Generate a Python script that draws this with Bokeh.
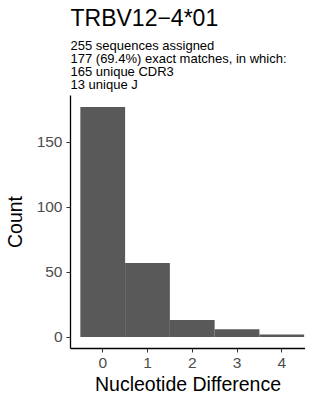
from bokeh.plotting import figure
from bokeh.models import Title, Range1d, FixedTicker
from bokeh.embed import file_html
from bokeh.resources import INLINE

diffs = [0, 1, 2, 3, 4]
counts = [177, 57, 13, 6, 2]
title_text = "TRBV12\u22124*01"
subtitle_lines = ["255 sequences assigned",
                  "177 (69.4%) exact matches, in which:",
                  "165 unique CDR3",
                  "13 unique J"]
y_ticks = [0, 50, 100, 150]
x_ticks = [0, 1, 2, 3, 4]
x_label = "Nucleotide Difference"
y_label = "Count"

FONT = "Liberation Sans"

p = figure(width=305, height=394, output_backend="svg", toolbar_location=None,
           x_range=Range1d(-0.72, 4.53), y_range=Range1d(-8.85, 185.85),
           min_border_left=63, min_border_right=0, min_border_bottom=0, min_border_top=0)

p.title.text = title_text
p.title.text_font = FONT
p.title.text_font_size = "23px"
p.title.text_font_style = "normal"
p.title.text_color = "black"
p.title.offset = 0
p.title.standoff = 4

sub = Title(text="\n".join(subtitle_lines), text_font=FONT, text_font_size="13px",
            text_font_style="normal", text_color="black", text_line_height=0.85,
            standoff=8)
p.add_layout(sub, "above")

p.quad(left=[d - 0.5 for d in diffs], right=[d + 0.5 for d in diffs],
       bottom=0, top=counts, fill_color="#595959", line_color=None)

p.xgrid.visible = False
p.ygrid.visible = False
p.outline_line_color = None

for ax in (p.xaxis[0], p.yaxis[0]):
    ax.axis_line_color = "black"
    ax.axis_line_width = 1.3
    ax.major_tick_line_color = "#333333"
    ax.major_tick_in = 0
    ax.major_tick_out = 4
    ax.minor_tick_line_color = None
    ax.major_label_text_font = FONT
    ax.major_label_text_font_size = "15.5px"
    ax.major_label_text_color = "#4D4D4D"
    ax.axis_label_text_font = FONT
    ax.axis_label_text_font_size = "19.5px"
    ax.axis_label_text_font_style = "normal"
    ax.axis_label_text_color = "black"

p.xaxis.ticker = FixedTicker(ticks=x_ticks)
p.yaxis.ticker = FixedTicker(ticks=y_ticks)
p.yaxis.axis_label = y_label
p.xaxis.major_label_standoff = 5
p.yaxis.major_label_standoff = 4
p.yaxis.axis_label_standoff = 8

xt = Title(text=x_label, align="center", text_font=FONT, text_font_size="19.5px",
           text_font_style="normal", text_color="black", standoff=0, offset=6)
p.add_layout(xt, "below")

open("out.html", "w").write(file_html(p, INLINE))
